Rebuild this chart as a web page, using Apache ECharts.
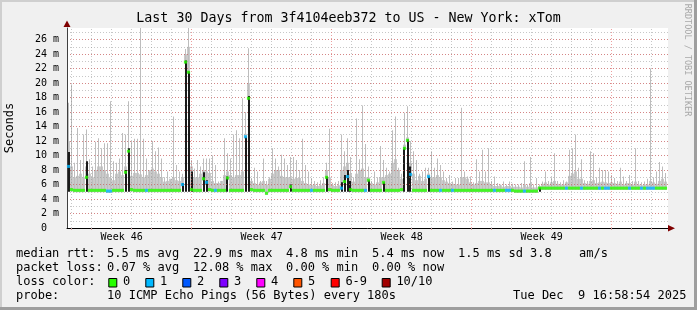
<!DOCTYPE html>
<html><head><meta charset="utf-8">
<script src="https://cdn.jsdelivr.net/npm/echarts@6/dist/echarts.min.js"></script>
<style>html,body{margin:0;padding:0;background:#f0f0f0;}#c{width:697px;height:310px;}</style>
</head><body><div id="c"></div>
<script>
// ---- data (one sample = 3.6 h, 200 samples = 30 days) ----
const STEP_H = 3.6;
const median = [
8.5,5.3,5.2,5.2,5.2,5.2,7.0,5.2,5.2,5.2,
5.2,5.2,5.2,5.1,5.1,5.2,5.2,5.2,5.2,7.7,
10.6,5.3,5.2,5.2,5.2,5.2,5.2,5.2,5.2,5.2,
5.2,5.2,5.2,5.2,5.2,5.2,5.2,5.2,6.0,22.9,
21.5,5.3,5.2,5.2,5.2,6.8,6.3,5.3,5.2,5.2,
5.2,5.2,5.2,6.9,5.2,5.2,5.2,5.2,5.2,12.6,
17.9,5.3,5.2,5.2,5.2,5.2,4.8,5.2,5.2,5.2,
5.2,5.2,5.2,5.2,5.7,5.2,5.2,5.2,5.2,5.2,
5.2,5.2,5.2,5.2,5.2,5.2,7.0,5.3,5.2,5.2,
5.2,5.5,6.4,7.1,5.3,5.2,5.2,5.2,5.2,5.2,
6.6,5.2,5.2,5.2,5.2,6.3,5.2,5.2,5.2,5.2,
5.2,5.3,11.0,12.1,7.4,5.2,5.2,5.2,5.2,5.2,
7.1,5.2,5.2,5.2,5.2,5.2,5.2,5.2,5.2,5.2,
5.2,5.2,5.2,5.2,5.2,5.2,5.2,5.2,5.2,5.2,
5.2,5.2,5.2,5.2,5.2,5.2,5.2,5.2,5.2,5.1,
5.1,5.1,5.1,5.1,5.1,5.1,5.1,5.5,5.5,5.5,
5.5,5.5,5.5,5.5,5.5,5.5,5.5,5.5,5.5,5.5,
5.5,5.5,5.5,5.5,5.5,5.5,5.5,5.5,5.5,5.5,
5.5,5.5,5.5,5.5,5.5,5.5,5.5,5.5,5.5,5.5,
5.5,5.5,5.5,5.5,5.5,5.5,5.5,5.5,5.5,5.5];
const smoke = [
12.0,8.5,7.0,7.2,7.5,7.0,8.5,7.5,7.0,8.0,
8.5,8.5,8.0,7.5,6.9,6.6,7.5,7.8,7.3,8.5,
9.5,7.2,7.6,7.6,7.4,7.0,7.3,8.0,8.2,7.8,
7.5,7.0,6.4,6.5,6.8,7.0,6.6,6.5,7.0,24.0,
25.0,8.5,7.0,7.0,7.5,8.0,7.8,7.6,6.5,6.2,
6.2,6.5,7.3,7.8,7.3,7.0,7.3,7.3,7.8,13.0,
20.0,6.5,6.2,6.0,6.3,6.5,6.0,6.8,7.5,8.0,
8.0,7.2,7.0,7.0,7.0,6.8,6.9,6.9,6.5,6.2,
6.0,5.9,6.0,5.8,5.9,6.2,8.0,7.0,5.9,5.8,
5.9,8.0,8.5,9.0,7.5,6.4,7.5,8.0,8.2,7.0,
7.0,6.2,6.0,6.3,7.0,7.0,7.3,7.5,9.0,9.5,
8.0,6.8,11.5,12.5,9.0,7.5,6.6,7.2,6.5,6.8,
7.5,7.0,7.0,7.3,7.0,6.6,6.4,6.2,6.1,6.0,
6.0,7.0,7.0,6.8,6.3,6.0,6.2,6.5,6.5,6.3,
6.3,6.0,5.8,5.8,5.9,5.7,5.8,5.8,5.7,5.7,
5.7,5.6,6.0,5.7,6.2,5.6,5.6,5.8,6.1,6.3,
6.0,6.3,6.5,6.1,6.0,6.0,6.3,7.2,7.5,7.8,
6.8,6.8,6.2,6.1,6.5,6.6,6.2,6.3,6.4,6.3,
6.2,6.3,6.2,6.1,6.4,6.0,6.2,6.2,6.0,6.4,
6.0,5.9,6.0,6.0,6.5,6.3,6.1,6.5,6.8,6.4];
const peak = [
17.3,19.8,9.0,13.8,9.4,12.9,13.6,9.5,8.5,11.9,
12.4,11.0,11.7,11.7,17.5,9.2,9.0,9.6,13.1,12.9,
17.5,12.0,12.3,12.3,27.6,12.3,9.6,7.8,12.0,10.6,
11.1,9.6,7.0,7.8,6.6,15.4,8.7,7.8,7.5,24.7,
27.6,9.4,8.2,9.4,8.5,9.6,9.6,9.6,10.0,8.7,
6.4,6.5,12.4,10.3,9.6,12.9,13.5,12.4,17.9,16.0,
24.8,6.9,8.3,7.8,6.5,9.6,6.5,7.0,11.0,9.6,
8.5,10.1,9.6,8.7,9.8,9.8,9.4,8.0,12.3,8.7,
7.8,6.9,6.5,6.3,6.6,7.0,9.0,13.7,6.2,6.3,
6.5,12.9,10.6,12.4,9.8,7.0,15.1,9.5,16.9,11.6,
8.5,6.5,7.8,7.0,11.3,9.4,8.3,7.8,13.5,15.4,
8.3,7.5,15.9,16.8,12.0,10.6,9.4,7.5,7.8,8.3,
8.3,10.6,8.3,9.6,8.7,7.8,6.9,7.3,6.4,6.9,
6.9,16.6,7.8,7.1,7.1,6.3,9.5,7.8,10.8,7.8,
11.0,6.5,7.1,6.2,6.0,6.4,6.0,6.4,6.1,6.0,
6.0,6.2,9.2,6.0,9.8,6.0,6.9,6.0,6.4,7.8,
6.5,7.0,10.3,6.5,6.3,6.6,6.4,10.8,11.0,12.9,
8.3,9.5,6.6,6.5,10.6,10.3,7.0,8.3,8.0,8.0,
7.8,7.3,6.9,6.5,8.3,7.1,6.5,7.3,6.5,11.0,
6.5,6.3,6.4,6.8,22.0,7.0,7.8,9.1,8.5,7.6];
// dense (dark) smoke top, 0 = none
const dark = [
10.5,0,0,0,0,0,9.2,0,0,0,
0,0,0,0,0,0,0,0,0,8.0,
11.0,0,0,0,0,0,0,0,0,0,
0,0,0,0,0,0,0,0,6.2,23.1,
21.6,7.8,0,0,0,7.7,6.6,0,0,0,
0,0,0,7.1,0,0,0,0,0,12.6,
18.2,0,0,0,0,0,0,0,0,0,
0,0,0,0,6.0,0,0,0,0,0,
0,0,0,0,0,0,7.1,0,0,0,
0,6.3,7.3,8.0,6.5,0,0,0,0,0,
6.6,0,0,0,0,6.3,0,0,0,0,
0,0,11.1,12.2,8.5,0,0,0,0,0,
7.1,0,0,0,0,0,0,0,0,0,
0,0,0,0,0,0,0,0,0,0,
0,0,0,0,0,0,0,0,0,0,
0,0,0,0,0,0,0,5.6,0,0,
0,0,0,0,0,0,0,0,0,0,
0,0,0,0,0,0,0,0,0,0,
0,0,0,0,0,0,0,0,0,0,
0,0,0,0,0,0,0,0,0,0];
// lost pings per sample (0..10)
const loss = [
1,0,0,0,0,0,0,0,0,0,
0,0,0,1,1,0,0,0,0,0,
0,0,0,0,0,0,1,0,0,0,
0,0,0,0,0,0,0,0,1,0,
0,0,0,0,0,0,1,0,0,1,
0,0,0,0,0,0,0,0,0,1,
0,0,0,0,0,0,0,0,0,0,
0,0,0,0,0,0,0,0,0,0,
0,1,0,0,0,0,0,0,0,0,
0,1,0,1,0,0,0,0,0,1,
0,0,0,0,0,0,0,0,0,0,
0,0,0,0,1,0,0,0,0,0,
1,0,0,0,1,0,0,0,1,0,
0,0,0,0,0,0,0,0,0,0,
0,0,1,0,0,0,1,1,0,0,
0,0,1,0,0,0,0,0,0,0,
0,0,0,0,0,0,1,0,0,0,
0,1,0,0,0,0,0,1,0,1,
1,0,0,0,0,0,0,1,0,0,
0,1,0,1,1,1,0,0,0,0];
const weekNames = ['Week 46','Week 47','Week 48','Week 49'];
const weekCenterH = [65.6, 233.6, 401.6, 569.6];
const firstMidnightH = 5.64;        // first daily grid line, hours after start
const spanH = 721.2;                // 30 days shown
const yMax = 27.6;
const lossColors = ['#26ff00','#00b8ff','#0059ff','#7e00ff','#ff00ff','#ff5500','#ff0000','#a10000'];
const lossLabels = ['0','1','2','3','4','5','6-9','10/10'];
const titleText = 'Last 30 Days from 3f4104eeb372 to US - New York: xTom';
const statRows = [
  ['median rtt:','5.5 ms avg','22.9 ms max','4.8 ms min','5.4 ms now','1.5 ms sd','3.8','am/s'],
  ['packet loss:','0.07 % avg','12.08 % max','0.00 % min','0.00 % now']
];
const probeText = ['probe:','10 ICMP Echo Pings (56 Bytes) every 180s','Tue Dec  9 16:58:54 2025'];

// ---- build ----
const MONO = '"DejaVu Sans Mono", monospace';
const xs = median.map((_, i) => (i + 0.5) * STEP_H);
const lossIdx = n => n === 0 ? 0 : n <= 5 ? n : n < 10 ? 6 : 7;
const smokeData = xs.map((x, i) => [x, median[i] - 0.25, smoke[i]]);
const peakData = xs.map((x, i) => [x, median[i] - 0.25, peak[i]]);
const darkData = xs.map((x, i) => [x, 5.0, dark[i]]).filter(d => d[2] > 0);
const medData = xs.map((x, i) => [x, median[i], loss[i]]);

function rectItem(w, color) {
  return function (params, api) {
    const x = api.value(0), lo = api.value(1), hi = api.value(2);
    if (!(hi > lo)) return null;
    const a = api.coord([x, lo]), b = api.coord([x, hi]);
    return { type: 'rect',
      shape: { x: Math.round(a[0] - w / 2), y: b[1], width: w, height: a[1] - b[1] },
      style: { fill: color } };
  };
}
const dayLines = [];
for (let d = 0; d < 30; d++) {
  const h = firstMidnightH + 24 * d;
  if (h > spanH) break;
  const major = d % 7 === 6;
  dayLines.push({ xAxis: h, lineStyle: { color: major ? 'rgba(222,80,80,0.55)' : 'rgba(143,143,143,0.5)', type: [1, 2], width: 1 } });
}
const dayTicks = dayLines.map(d => d.xAxis);

const graphics = [];
function txt(x, y, s, size, extra) {
  graphics.push({ type: 'text', x: x, y: y, silent: true,
    style: Object.assign({ text: s, font: size + 'px ' + MONO, fill: '#000',
      textAlign: 'left', textVerticalAlign: 'middle', align: 'left', verticalAlign: 'middle' }, extra || {}) });
}
// frame
graphics.push({ type: 'rect', shape: { x: 0, y: 0, width: 697, height: 2 }, style: { fill: '#cfcfcf' }, silent: true });
graphics.push({ type: 'rect', shape: { x: 0, y: 0, width: 2, height: 310 }, style: { fill: '#cfcfcf' }, silent: true });
graphics.push({ type: 'rect', shape: { x: 0, y: 307, width: 697, height: 3 }, style: { fill: '#9e9e9e' }, silent: true });
graphics.push({ type: 'rect', shape: { x: 694, y: 0, width: 3, height: 310 }, style: { fill: '#9e9e9e' }, silent: true });
// title
txt(348.5, 19, titleText, 13.3, { textAlign: 'center', align: 'center' });
// axis arrows
graphics.push({ type: 'polygon', shape: { points: [[668, 225], [668, 231.5], [675, 228.3]] }, style: { fill: '#7f0000' }, silent: true, z: 20 });
graphics.push({ type: 'polygon', shape: { points: [[63.5, 27], [70.5, 27], [67, 20.5]] }, style: { fill: '#7f0000' }, silent: true, z: 20 });
// vertical texts
graphics.push({ type: 'text', x: 10, y: 128, rotation: Math.PI / 2, silent: true,
  style: { text: 'Seconds', font: '12px ' + MONO, fill: '#000', textAlign: 'center', align: 'center', textVerticalAlign: 'middle', verticalAlign: 'middle' } });
graphics.push({ type: 'text', x: 687, y: 60, rotation: -Math.PI / 2, silent: true,
  style: { text: 'RRDTOOL / TOBI OETIKER', font: '8.5px ' + MONO, fill: '#a8a8a8', textAlign: 'center', align: 'center', textVerticalAlign: 'middle', verticalAlign: 'middle' } });
// stats
const colX = [16, 107, 193, 286, 372, 458, 530, 579];
statRows.forEach((row, r) => row.forEach((s, k) => txt(colX[k], 254 + 14 * r, s, 12)));
txt(16, 282, 'loss color:', 12);
const boxX = [108.3, 145.3, 182.3, 219.3, 256.3, 293.3, 330.7, 381.7];
lossLabels.forEach((l, k) => {
  graphics.push({ type: 'rect', shape: { x: boxX[k] + 0.5, y: 278.5, width: 8, height: 8.5 },
    style: { fill: lossColors[k], stroke: '#000', lineWidth: 1 }, silent: true });
  txt(boxX[k] + 14.7, 282, l, 12);
});
txt(16, 296, probeText[0], 12);
txt(107, 296, probeText[1], 12);
txt(513, 296, probeText[2], 12);

const chart = echarts.init(document.getElementById('c'));
chart.setOption({
  animation: false,
  backgroundColor: '#f0f0f0',
  grid: { left: 67, right: 29, top: 28, bottom: 82, show: true, backgroundColor: '#ffffff', borderWidth: 0 },
  xAxis: [{
    type: 'value', min: 0, max: spanH, z: 3,
    axisLine: { show: true, onZero: false, lineStyle: { color: '#000', width: 1 } },
    axisTick: { show: true, customValues: dayTicks, length: 2, lineStyle: { color: '#c8a0a0' } },
    axisLabel: { customValues: weekCenterH, fontFamily: MONO, fontSize: 10, color: '#000', margin: 4,
      formatter: v => { let b = 0; weekCenterH.forEach((h, k) => { if (Math.abs(h - v) < Math.abs(weekCenterH[b] - v)) b = k; }); return weekNames[b]; } },
    splitLine: { show: false }
  }],
  yAxis: [{
    type: 'value', min: 0, max: yMax, interval: 1, z: 2,
    axisLine: { show: true, lineStyle: { color: '#404040' } },
    axisTick: { show: false },
    axisLabel: { fontFamily: MONO, fontSize: 10, color: '#000', margin: 8,
      formatter: v => v === 0 ? '0  ' : (Number.isInteger(v) && v % 2 === 0 ? v + ' m' : '') },
    splitLine: { show: true, showMaxLine: false, lineStyle: { color: 'rgba(143,143,143,0.5)', type: [1, 2] } }
  }, {
    type: 'value', min: 0, max: yMax, interval: 2, position: 'left', z: 2,
    axisLine: { show: false }, axisTick: { show: false }, axisLabel: { show: false },
    splitLine: { show: true, showMinLine: false, showMaxLine: false, lineStyle: { color: 'rgba(222,80,80,0.55)', type: [1, 2] } }
  }],
  series: [
    { type: 'custom', name: 'smoke', z: 1, clip: true, silent: true, renderItem: rectItem(3, '#cacaca'), encode: { x: 0, y: [1, 2] }, data: smokeData },
    { type: 'custom', name: 'peak', z: 1, clip: true, silent: true, renderItem: rectItem(1, '#bdbdbd'), encode: { x: 0, y: [1, 2] }, data: peakData },
    { type: 'custom', name: 'dark', z: 1, clip: true, silent: true, renderItem: rectItem(2, '#1a1a1a'), encode: { x: 0, y: [1, 2] }, data: darkData },
    { type: 'scatter', name: 'grid', z: 3, silent: true, symbolSize: 0, data: [[-50, -50]],
      markLine: { silent: true, symbol: ['none', 'none'], label: { show: false }, animation: false, z: 3, data: dayLines } },
    { type: 'scatter', name: 'median', z: 10, silent: true, symbol: 'rect', symbolSize: [3.2, 3],
      itemStyle: { color: p => lossColors[lossIdx(p.value[2])] }, data: medData }
  ],
  graphic: graphics
});
</script></body></html>
